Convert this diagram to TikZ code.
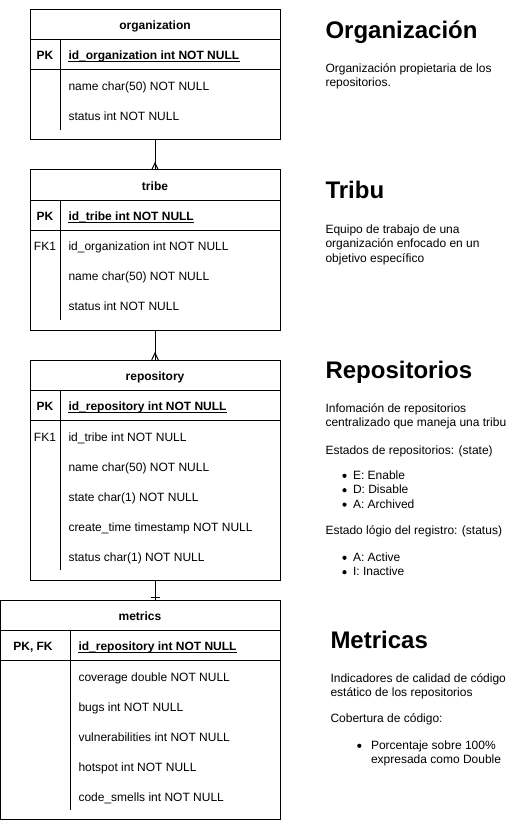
\documentclass[tikz,border=0pt]{standalone}
\usepackage{fontspec}
\setmainfont{Liberation Sans}
\newcommand{\fsz}{\fontsize{12pt}{14.4pt}\selectfont}
\newcommand{\ttlfont}{\fontsize{24pt}{28pt}\selectfont\bfseries}
\begin{document}
\begin{tikzpicture}[x=1pt,y=-1pt, line width=1pt,
 tbox/.style={draw, inner sep=0pt, outer sep=0pt},
 fld/.style={anchor=base west, inner sep=0pt, font=\fsz},
 pkfld/.style={anchor=base west, inner sep=0pt, font=\fsz\bfseries},
 keyt/.style={anchor=base, inner sep=0pt, font=\fsz},
 keyb/.style={anchor=base, inner sep=0pt, font=\fsz\bfseries},
 hdr/.style={anchor=base, inner sep=0pt, font=\fsz\bfseries},
 ttlt/.style={anchor=base west, inner sep=0pt, font=\ttlfont},
 dsc/.style={anchor=base west, inner sep=0pt, font=\fsz},
 bul/.style={circle, fill, draw=none, inner sep=0pt, minimum size=4.2pt}]
\useasboundingbox (0,0) rectangle (521,821);

% ---------- organization ----------
\node[tbox, minimum width=250pt, minimum height=130pt] (org) at (155,75) {};
\draw (30,40) -- (280,40);
\draw (30,70) -- (280,70);
\draw (60,40) -- (60,130);
\node[hdr] (orgh) at (155,30) {organization};
\node[keyb] (orgk) at (45,60) {PK};
\node[pkfld] (orgpk) at (68,60) {id\_organization int NOT NULL};
\draw ([yshift=-2pt]orgpk.base west) -- ([yshift=-2pt]orgpk.base east);
\node[fld] (orgf1) at (68,91) {name char(50) NOT NULL};
\node[fld] (orgf2) at (68,121) {status int NOT NULL};

% ---------- tribe ----------
\node[tbox, minimum width=250pt, minimum height=160pt] (tribe) at (155,250) {};
\draw (30,200) -- (280,200);
\draw (30,230) -- (280,230);
\draw (60,200) -- (60,320);
\node[hdr] (trh) at (155,190) {tribe};
\node[keyb] (trk) at (45,220) {PK};
\node[pkfld] (trpk) at (68,220) {id\_tribe int NOT NULL};
\draw ([yshift=-2pt]trpk.base west) -- ([yshift=-2pt]trpk.base east);
\node[keyt] (trk2) at (45,250) {FK1};
\node[fld] (trf1) at (68,250) {id\_organization int NOT NULL};
\node[fld] (trf2) at (68,280) {name char(50) NOT NULL};
\node[fld] (trf3) at (68,310) {status int NOT NULL};

% ---------- repository ----------
\node[tbox, minimum width=250pt, minimum height=220pt] (repo) at (155,470) {};
\draw (30,390) -- (280,390);
\draw (30,420) -- (280,420);
\draw (60,390) -- (60,570);
\node[hdr] (reh) at (155,380) {repository};
\node[keyb] (rek) at (45,410) {PK};
\node[pkfld] (repk) at (68,410) {id\_repository int NOT NULL};
\draw ([yshift=-2pt]repk.base west) -- ([yshift=-2pt]repk.base east);
\node[keyt] (rek2) at (45,441) {FK1};
\node[fld] (ref1) at (68,441) {id\_tribe int NOT NULL};
\node[fld] (ref2) at (68,471) {name char(50) NOT NULL};
\node[fld] (ref3) at (68,501) {state char(1) NOT NULL};
\node[fld] (ref4) at (68,531) {create\_time timestamp NOT NULL};
\node[fld] (ref5) at (68,561) {status char(1) NOT NULL};

% ---------- metrics ----------
\node[tbox, minimum width=279.5pt, minimum height=219.5pt] (met) at (140.25,710) {};
\draw (0.5,630) -- (280,630);
\draw (0.5,660) -- (280,660);
\draw (70,630) -- (70,810);
\node[hdr] (meh) at (140,620) {metrics};
\node[keyb] (mek) at (33,650) {PK, FK};
\node[pkfld] (mepk) at (78,650) {id\_repository int NOT NULL};
\draw ([yshift=-2pt]mepk.base west) -- ([yshift=-2pt]mepk.base east);
\node[fld] (mef1) at (78,681) {coverage double NOT NULL};
\node[fld] (mef2) at (78,711) {bugs int NOT NULL};
\node[fld] (mef3) at (78,741) {vulnerabilities int NOT NULL};
\node[fld] (mef4) at (78,771) {hotspot int NOT NULL};
\node[fld] (mef5) at (78,801) {code\_smells int NOT NULL};

% ---------- connectors ----------
\draw (org.south) -- (tribe.north);
\draw ([xshift=-3.3pt]tribe.north) -- ([yshift=7pt]tribe.north) -- ([xshift=3.3pt]tribe.north);
\draw (tribe.south) -- (repo.north);
\draw ([xshift=-3.3pt]repo.north) -- ([yshift=7pt]repo.north) -- ([xshift=3.3pt]repo.north);
\draw (repo.south) -- (repo.south |- met.north);
\draw ([xshift=-4.5pt,yshift=2.5pt]repo.south |- met.north) -- ([xshift=5pt,yshift=2.5pt]repo.south |- met.north);

% ---------- descriptions ----------
\node[ttlt] (t1) at (325,38.5) {Organización};
\node[dsc] (d11) at (325,72.5) {Organización propietaria de los};
\node[dsc] (d12) at (325,86.9) {repositorios.};

\node[ttlt] (t2) at (325,198.5) {Tribu};
\node[dsc] (d21) at (325,233.5) {Equipo de trabajo de una};
\node[dsc] (d22) at (325,247.9) {organización enfocado en un};
\node[dsc] (d23) at (325,262.3) {objetivo específico};

\node[ttlt] (t3) at (325,378.5) {Repositorios};
\node[dsc] (d31) at (325,412.5) {Infomación de repositorios};
\node[dsc] (d32) at (325,426.9) {centralizado que maneja una tribu};
\node[dsc] (d33) at (325,454.5) {Estados de repositorios: (state)};
\node[bul] (b31) at (344.5,475.8) {};
\node[dsc] (d34) at (352.5,479.5) {E: Enable};
\node[bul] (b32) at (344.5,490.2) {};
\node[dsc] (d35) at (352.5,493.9) {D: Disable};
\node[bul] (b33) at (344.5,504.6) {};
\node[dsc] (d36) at (352.5,508.3) {A: Archived};
\node[dsc] (d37) at (325,534.5) {Estado lógio del registro: (status)};
\node[bul] (b34) at (344.5,557.8) {};
\node[dsc] (d38) at (352.5,561.5) {A: Active};
\node[bul] (b35) at (344.5,572.2) {};
\node[dsc] (d39) at (352.5,575.9) {I: Inactive};

\node[ttlt] (t4) at (330,648.5) {Metricas};
\node[dsc] (d41) at (330,682.5) {Indicadores de calidad de código};
\node[dsc] (d42) at (330,696.9) {estático de los repositorios};
\node[dsc] (d43) at (330,722.5) {Cobertura de código:};
\node[bul] (b41) at (359.3,745.8) {};
\node[dsc] (d44) at (370.5,749.5) {Porcentaje sobre 100\%};
\node[dsc] (d45) at (370.5,763.9) {expresada como Double};
\end{tikzpicture}
\end{document}
